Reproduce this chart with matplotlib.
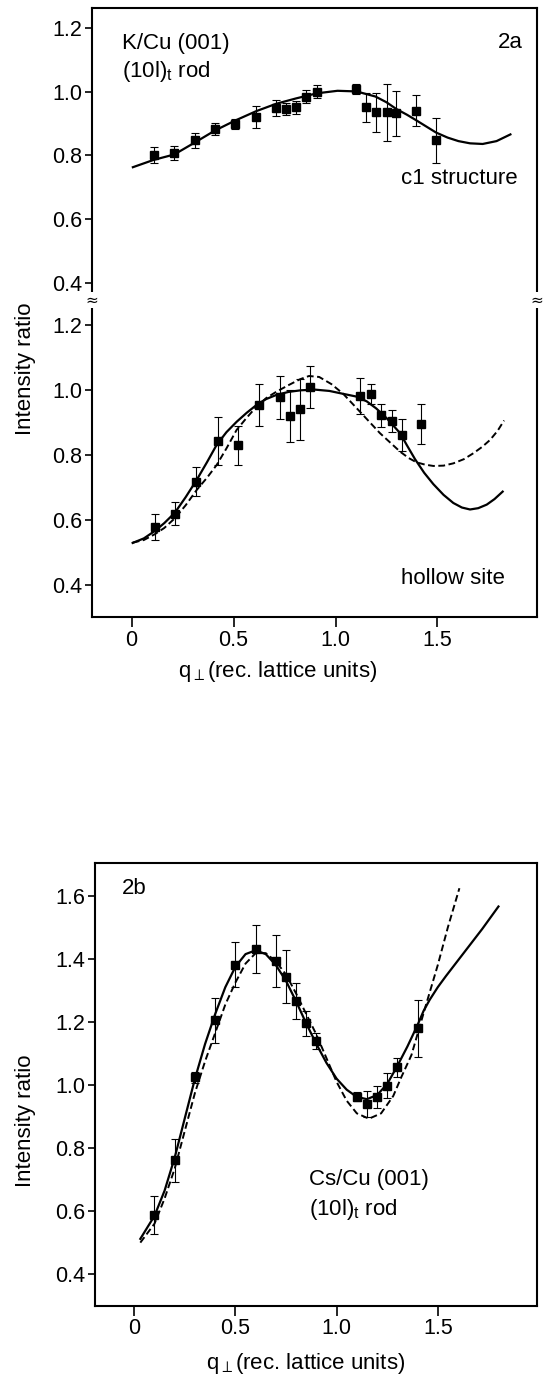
import matplotlib
matplotlib.use("Agg")
import matplotlib.pyplot as plt

plt.rcParams['font.family'] = ['Liberation Sans', 'DejaVu Sans']
plt.rcParams['mathtext.fontset'] = 'custom'
plt.rcParams['mathtext.rm'] = 'Liberation Sans'
plt.rcParams['mathtext.it'] = 'Liberation Sans:italic'
plt.rcParams['mathtext.default'] = 'regular'

# ---------------- data: panel 2a, upper (c1 structure) ----------------
a1_q = [0.108, 0.209, 0.311, 0.408, 0.506, 0.611, 0.708, 0.759, 0.806, 0.857, 0.908,
        1.103, 1.149, 1.200, 1.251, 1.298, 1.397, 1.493]
a1_I = [0.800, 0.807, 0.847, 0.883, 0.899, 0.920, 0.949, 0.946, 0.951, 0.985, 1.000,
        1.009, 0.951, 0.935, 0.935, 0.932, 0.941, 0.847]
a1_err = [0.025, 0.022, 0.025, 0.020, 0.015, 0.035, 0.025, 0.020, 0.020, 0.020, 0.020,
          0.015, 0.045, 0.060, 0.090, 0.070, 0.050, 0.070]
a1_fit_q = [0.006, 0.108, 0.209, 0.311, 0.408, 0.506, 0.611, 0.708, 0.806, 0.908, 1.010,
            1.103, 1.196, 1.250, 1.298, 1.350, 1.397, 1.450, 1.493, 1.550, 1.603, 1.660,
            1.722, 1.790, 1.858]
a1_fit_I = [0.763, 0.786, 0.803, 0.841, 0.878, 0.909, 0.939, 0.962, 0.979, 0.995, 1.003,
            1.001, 0.985, 0.967, 0.946, 0.928, 0.910, 0.889, 0.872, 0.856, 0.845, 0.838,
            0.836, 0.845, 0.866]

# ---------------- data: panel 2a, lower (hollow site) ----------------
a2_q = [0.115, 0.214, 0.317, 0.425, 0.522, 0.625, 0.726, 0.776, 0.828, 0.877,
        1.120, 1.175, 1.225, 1.275, 1.325, 1.420]
a2_I = [0.579, 0.619, 0.718, 0.843, 0.830, 0.954, 0.977, 0.920, 0.940, 1.009,
        0.981, 0.988, 0.922, 0.905, 0.861, 0.895]
a2_err = [0.040, 0.035, 0.045, 0.075, 0.060, 0.065, 0.065, 0.080, 0.095, 0.065,
          0.055, 0.030, 0.035, 0.033, 0.050, 0.062]
a2_solid_q = [0.005, 0.06, 0.114, 0.16, 0.212, 0.265, 0.319, 0.37, 0.417, 0.465, 0.515,
              0.565, 0.613, 0.66, 0.711, 0.77, 0.83, 0.90, 0.97, 1.038, 1.10, 1.153,
              1.20, 1.251, 1.317, 1.35, 1.39, 1.435, 1.48, 1.53, 1.578, 1.62, 1.66,
              1.70, 1.742, 1.78, 1.82]
a2_solid_I = [0.529, 0.543, 0.566, 0.590, 0.622, 0.670, 0.723, 0.778, 0.831, 0.870, 0.902,
              0.930, 0.954, 0.972, 0.985, 0.994, 0.999, 1.001, 0.997, 0.988, 0.980, 0.965,
              0.943, 0.913, 0.867, 0.830, 0.787, 0.745, 0.710, 0.677, 0.652, 0.638, 0.632,
              0.636, 0.647, 0.664, 0.687]
a2_dash_q = [0.005, 0.06, 0.114, 0.16, 0.212, 0.265, 0.319, 0.37, 0.417, 0.465, 0.515,
             0.565, 0.613, 0.66, 0.711, 0.77, 0.826, 0.87, 0.92, 0.98, 1.038, 1.12,
             1.218, 1.317, 1.36, 1.398, 1.44, 1.48, 1.53, 1.578, 1.63, 1.676, 1.72,
             1.758, 1.795, 1.827]
a2_dash_I = [0.530, 0.538, 0.556, 0.575, 0.605, 0.645, 0.692, 0.730, 0.769, 0.820, 0.877,
             0.915, 0.949, 0.975, 0.995, 1.015, 1.033, 1.043, 1.040, 1.018, 0.988, 0.933,
             0.867, 0.810, 0.790, 0.777, 0.770, 0.766, 0.767, 0.774, 0.787, 0.805, 0.825,
             0.846, 0.874, 0.906]

# ---------------- data: panel 2b (Cs/Cu(001)) ----------------
b_q = [0.10, 0.20, 0.30, 0.40, 0.50, 0.60, 0.70, 0.75, 0.80, 0.85, 0.90,
       1.10, 1.15, 1.20, 1.25, 1.30, 1.40]
b_I = [0.588, 0.761, 1.024, 1.205, 1.382, 1.432, 1.393, 1.343, 1.266, 1.196, 1.140,
       0.963, 0.940, 0.963, 0.998, 1.056, 1.180]
b_err = [0.060, 0.068, 0.018, 0.072, 0.070, 0.076, 0.082, 0.084, 0.056, 0.040, 0.025,
         0.015, 0.040, 0.035, 0.040, 0.030, 0.090]
b_solid_q = [0.03, 0.10, 0.15, 0.20, 0.25, 0.30, 0.35, 0.40, 0.45, 0.50, 0.55, 0.60,
             0.65, 0.70, 0.75, 0.80, 0.85, 0.90, 0.95, 1.00, 1.05, 1.10, 1.15, 1.20,
             1.25, 1.30, 1.35, 1.40, 1.43, 1.46, 1.50, 1.54, 1.63, 1.72, 1.80]
b_solid_I = [0.512, 0.585, 0.665, 0.770, 0.895, 1.020, 1.130, 1.225, 1.310, 1.375, 1.415,
             1.427, 1.415, 1.380, 1.330, 1.265, 1.195, 1.130, 1.070, 1.020, 0.985, 0.962,
             0.955, 0.968, 1.003, 1.060, 1.122, 1.190, 1.235, 1.270, 1.310, 1.345, 1.420,
             1.495, 1.566]
b_dash_q = [0.03, 0.10, 0.15, 0.20, 0.25, 0.30, 0.35, 0.40, 0.45, 0.50, 0.55, 0.60,
            0.65, 0.70, 0.75, 0.80, 0.85, 0.90, 0.95, 1.00, 1.05, 1.10, 1.16, 1.22,
            1.28, 1.32, 1.37, 1.44, 1.50, 1.55, 1.607]
b_dash_I = [0.500, 0.560, 0.640, 0.735, 0.855, 0.975, 1.075, 1.165, 1.255, 1.325, 1.385,
            1.418, 1.418, 1.392, 1.350, 1.290, 1.225, 1.160, 1.085, 1.010, 0.950, 0.910,
            0.893, 0.910, 0.965, 1.025, 1.095, 1.250, 1.380, 1.500, 1.624]

x_ticks = [0, 0.5, 1.0, 1.5]
x_ticklabels = ['0', '0.5', '1.0', '1.5']
y_ticks_a = [0.4, 0.6, 0.8, 1.0, 1.2]
y_ticklabels_a = ['0.4', '0.6', '0.8', '1.0', '1.2']
y_ticks_b = [0.4, 0.6, 0.8, 1.0, 1.2, 1.4, 1.6]
y_ticklabels_b = ['0.4', '0.6', '0.8', '1.0', '1.2', '1.4', '1.6']

# ---------------- figure ----------------
W, H = 544, 1375
fig = plt.figure(figsize=(W / 100, H / 100), dpi=100)


def fx(p):
    return p / W


def fy(p):
    return 1 - p / H


def box(l, t, r, b):
    return [fx(l), fy(b), fx(r) - fx(l), fy(t) - fy(b)]


ax_top = fig.add_axes(box(91.7, 8, 536.7, 300))
ax_bot = fig.add_axes(box(91.7, 300, 536.7, 617.3))
ax_b = fig.add_axes(box(95, 863.3, 536.7, 1305.7))

FS_TICK = 15.5
FS = 16
DASH = (0, (3.5, 1.8))


def style(ax):
    for s in ax.spines.values():
        s.set_linewidth(1.5)
    ax.tick_params(direction='out', length=5, width=1.2, labelsize=FS_TICK, pad=2,
                   top=False, right=False)


def draw_points(ax, q, I, e):
    ax.errorbar(q, I, yerr=e, fmt='s', color='k', ms=6.2, capsize=3.2,
                elinewidth=0.8, capthick=0.8, zorder=3)


for ax in (ax_top, ax_bot, ax_b):
    style(ax)

# panel 2a upper
ax_top.plot(a1_fit_q, a1_fit_I, color='k', lw=1.6)
draw_points(ax_top, a1_q, a1_I, a1_err)
ax_top.set_xlim(-0.196, 1.987)
ax_top.set_ylim(0.346, 1.263)
ax_top.set_yticks(y_ticks_a)
ax_top.set_yticklabels(y_ticklabels_a)
ax_top.spines['bottom'].set_visible(False)
ax_top.tick_params(bottom=False, labelbottom=False)

# panel 2a lower
ax_bot.plot(a2_solid_q, a2_solid_I, color='k', lw=1.6)
ax_bot.plot(a2_dash_q, a2_dash_I, color='k', lw=1.4, ls=DASH)
draw_points(ax_bot, a2_q, a2_I, a2_err)
ax_bot.set_xlim(-0.196, 1.987)
ax_bot.set_ylim(0.30, 1.277)
ax_bot.set_yticks(y_ticks_a)
ax_bot.set_yticklabels(y_ticklabels_a)
ax_bot.set_xticks(x_ticks)
ax_bot.set_xticklabels(x_ticklabels)
ax_bot.tick_params(axis='x', length=7)
ax_bot.spines['top'].set_visible(False)

# panel 2b
ax_b.plot(b_solid_q, b_solid_I, color='k', lw=1.6)
ax_b.plot(b_dash_q, b_dash_I, color='k', lw=1.4, ls=DASH)
draw_points(ax_b, b_q, b_I, b_err)
ax_b.set_xlim(-0.194, 1.989)
ax_b.set_ylim(0.30, 1.703)
ax_b.set_yticks(y_ticks_b)
ax_b.set_yticklabels(y_ticklabels_b)
ax_b.set_xticks(x_ticks)
ax_b.set_xticklabels(x_ticklabels)
ax_b.tick_params(axis='x', length=7)

# break marks
for xp in (91.7, 536.7):
    fig.text(fx(xp), fy(300), '≈', ha='center', va='center', fontsize=11,
             family='DejaVu Sans',
             bbox=dict(facecolor='white', edgecolor='none', pad=0.5))

# texts
fig.text(fx(122), fy(43), 'K/Cu (001)', ha='left', va='center', fontsize=FS)
fig.text(fx(122), fy(72), '(10l)$_t$ rod', ha='left', va='center', fontsize=FS)
fig.text(fx(523), fy(43), '2a', ha='right', va='center', fontsize=FS)
fig.text(fx(518), fy(178), 'c1 structure', ha='right', va='center', fontsize=FS)
fig.text(fx(505), fy(579), 'hollow site', ha='right', va='center', fontsize=FS)
fig.text(fx(26), fy(369), 'Intensity ratio', rotation=90, ha='center', va='center',
         fontsize=FS)
fig.text(fx(278), fy(672), r'q$_{\perp}$(rec. lattice units)', ha='center',
         va='center', fontsize=FS)

fig.text(fx(122), fy(888), '2b', ha='left', va='center', fontsize=FS)
fig.text(fx(309), fy(1180), 'Cs/Cu (001)', ha='left', va='center', fontsize=FS)
fig.text(fx(309), fy(1210), '(10l)$_t$ rod', ha='left', va='center', fontsize=FS)
fig.text(fx(26), fy(1121), 'Intensity ratio', rotation=90, ha='center', va='center',
         fontsize=FS)
fig.text(fx(306), fy(1363), r'q$_{\perp}$(rec. lattice units)', ha='center',
         va='center', fontsize=FS)

fig.savefig('out.png', dpi=100)
